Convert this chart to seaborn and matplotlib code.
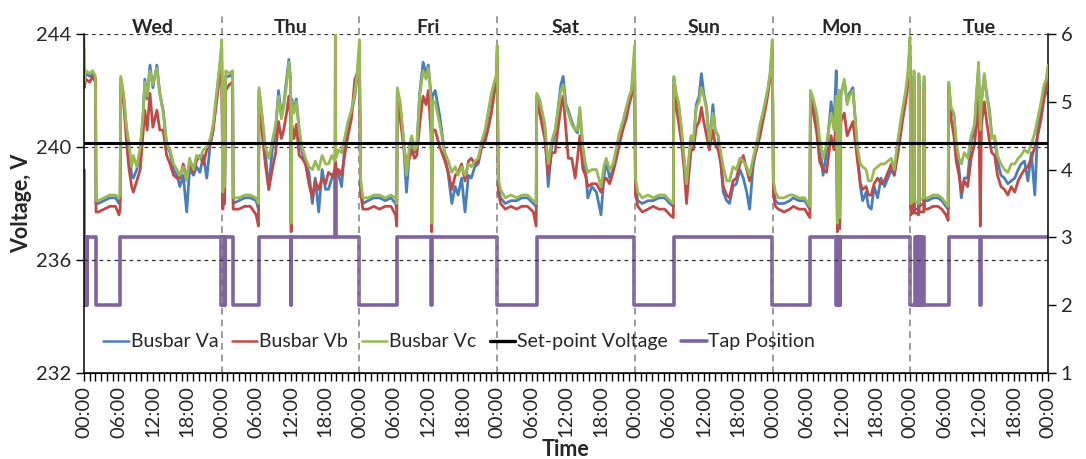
import pandas as pd
import seaborn as sns
import matplotlib.pyplot as plt
from matplotlib.lines import Line2D

# busbar voltages, hours from Wed 00:00
wed_h = [0, 0.05, 0.3, 1.0, 1.5, 2.0,
         2.1, 2.5, 3.5, 4.5, 5.5,
         6.1, 6.3, 6.4, 6.9, 7.4,
         7.8, 8.3, 8.6, 9.2, 9.8,
         10.3, 10.6, 11.0, 11.5, 12.0,
         12.7, 13.2, 13.8, 14.4, 15.0,
         15.6, 16.2, 16.7, 17.3, 17.9,
         18.4, 19.1, 19.6, 20.2, 20.8,
         21.4, 22.0, 22.5, 23.1, 23.7,
         23.95]
wed_vc = [243.9, 242.3, 242.7, 242.6, 242.7, 242.5,
          238.1, 238.1, 238.2, 238.3, 238.3,
          238.2, 238.3, 242.5, 241.9, 240.7,
          240.2, 239.3, 239.7, 239.3, 240.0,
          241.2, 242.3, 241.8, 242.7, 242.2,
          242.8, 241.9, 241.2, 240.1, 239.9,
          239.4, 239.2, 239.0, 239.3, 238.8,
          239.6, 239.2, 239.7, 239.6, 239.9,
          240.0, 240.3, 240.8, 241.9, 243.0,
          243.6]
wed_vb = [242.8, 242.1, 242.4, 242.3, 242.5, 242.3,
          237.7, 237.7, 237.8, 237.9, 237.9,
          237.6, 237.8, 242.2, 241.6, 240.2,
          239.3, 238.6, 238.4, 238.8, 239.2,
          240.5, 241.3, 240.6, 241.9, 240.7,
          241.3, 240.6, 240.6, 239.7, 239.4,
          239.0, 238.9, 238.9, 239.4, 238.9,
          239.4, 239.1, 239.5, 239.7, 239.4,
          239.9, 240.1, 240.6, 241.6, 242.6,
          243.0]
wed_va = [243.5, 242.3, 242.6, 242.5, 242.6, 242.4,
          238.0, 238.0, 238.1, 238.2, 238.2,
          238.0, 238.1, 242.4, 241.8, 240.6,
          240.0, 239.0, 238.9, 239.2, 239.8,
          241.1, 242.4, 241.7, 242.9, 242.1,
          242.9, 241.9, 241.3, 240.1, 239.8,
          239.2, 239.0, 238.6, 239.0, 237.7,
          239.2, 239.0, 239.3, 239.1, 239.7,
          238.9, 240.1, 240.6, 241.8, 242.9,
          243.4]

thu_h = [24.0, 24.2, 24.35, 24.5, 24.7,
         25.3, 25.9, 26.0, 27.0, 28.0,
         29.0, 30.0, 30.4, 30.5, 31.0,
         31.6, 32.2, 32.8, 33.4, 33.9,
         34.4, 34.8, 35.3, 35.7, 36.0,
         36.1, 36.2, 36.6, 37.0, 37.5,
         38.0, 38.6, 39.2, 39.8, 40.3,
         40.9, 41.5, 42.1, 42.6, 43.2,
         43.7, 43.8, 43.9, 44.4, 44.9,
         45.5, 46.0, 46.6, 47.2, 47.6,
         47.95]
thu_vc = [243.8, 238.4, 242.4, 238.6, 242.7,
          242.6, 242.7, 238.2, 238.2, 238.3,
          238.3, 238.2, 238.0, 242.1, 241.2,
          240.0, 239.6, 240.2, 240.8, 241.8,
          241.0, 241.4, 242.2, 243.0, 242.3,
          237.3, 241.6, 241.2, 241.6, 240.6,
          240.0, 239.6, 239.3, 239.2, 239.5,
          239.2, 239.7, 239.4, 239.4, 239.7,
          239.5, 244.0, 239.6, 239.9, 239.8,
          240.4, 240.9, 241.3, 241.9, 242.6,
          243.7]
thu_vb = [243.0, 237.8, 241.9, 238.0, 242.0,
          242.2, 242.3, 237.8, 237.8, 237.9,
          237.9, 237.6, 237.2, 241.8, 240.6,
          239.4, 238.5, 239.2, 239.8, 240.9,
          240.3, 240.6, 241.2, 241.8, 241.0,
          237.0, 240.8, 240.3, 240.8, 239.7,
          239.6, 239.4, 238.7, 238.2, 238.8,
          238.5, 238.9, 238.7, 239.1, 239.0,
          238.9, 239.5, 239.0, 239.2, 239.0,
          239.8, 240.4, 241.0, 242.4, 242.6,
          243.0]
thu_va = [243.5, 237.9, 242.2, 238.0, 242.5,
          242.5, 242.6, 238.0, 238.1, 238.2,
          238.2, 238.1, 237.8, 242.0, 241.1,
          239.8, 238.5, 239.9, 240.6, 242.0,
          241.1, 241.5, 242.4, 243.1, 242.4,
          237.3, 241.7, 241.3, 241.7, 240.6,
          239.8, 239.4, 239.1, 238.0, 238.9,
          237.7, 239.2, 238.5, 238.5, 238.9,
          239.2, 239.5, 239.3, 239.0, 238.6,
          240.2, 240.7, 241.2, 241.8, 242.5,
          243.3]

fri_h = [48.0, 48.2, 48.6, 49.5, 50.5,
         51.5, 52.5, 53.5, 54.3, 54.5,
         54.6, 55.1, 55.6, 56.2, 56.7,
         57.1, 57.6, 58.0, 58.5, 59.1,
         59.6, 60.0, 60.5, 60.6, 60.7,
         61.2, 62.0, 62.9, 63.5, 64.1,
         64.7, 65.2, 65.8, 66.4, 67.0,
         67.5, 68.1, 68.7, 69.3, 69.9,
         70.5, 71.0, 71.5, 71.9]
fri_vc = [243.8, 238.9, 238.2, 238.2, 238.3,
          238.3, 238.2, 238.3, 238.2, 238.0,
          242.1, 241.6, 240.5, 239.0, 240.0,
          240.4, 239.9, 240.0, 241.8, 242.7,
          242.4, 242.8, 241.6, 237.3, 241.6,
          241.6, 240.8, 239.8, 239.5, 239.1,
          239.3, 239.0, 239.3, 239.0, 239.4,
          239.3, 239.5, 239.6, 240.2, 240.6,
          241.3, 241.9, 242.3, 242.6]
fri_vb = [243.0, 238.4, 237.8, 237.8, 237.9,
          237.8, 237.9, 237.9, 237.6, 237.2,
          241.8, 241.0, 240.2, 239.4, 239.6,
          239.9, 239.6, 239.7, 240.8, 241.8,
          241.5, 242.0, 240.4, 237.0, 240.6,
          240.6, 240.0, 239.5, 239.1, 238.5,
          239.0, 239.1, 239.4, 238.8, 239.5,
          239.6, 239.4, 239.5, 240.0, 240.2,
          240.7, 241.2, 241.9, 242.4]
fri_va = [243.4, 238.6, 238.0, 238.1, 238.2,
          238.2, 238.1, 238.2, 238.0, 237.8,
          242.0, 241.4, 240.4, 238.4, 239.8,
          240.3, 239.8, 240.0, 241.9, 243.0,
          242.6, 242.9, 241.8, 237.3, 241.8,
          242.0, 241.1, 239.7, 239.0, 238.0,
          238.6, 238.3, 238.9, 237.7, 239.0,
          238.9, 239.3, 239.4, 240.0, 240.5,
          241.2, 241.8, 242.2, 242.5]

sat_h = [72.0, 72.2, 72.6, 73.4, 74.4,
         75.4, 76.3, 77.3, 78.3, 78.8,
         78.9, 79.4, 80.3, 80.9, 81.5,
         82.1, 82.7, 83.1, 83.5, 84.0,
         84.4, 85.0, 85.6, 86.0, 86.4,
         86.95, 87.4, 87.8, 88.5, 89.3,
         90.1, 90.6, 91.0, 91.6, 92.2,
         92.8, 93.3, 93.9, 94.5, 95.0,
         95.4, 95.95]
sat_vc = [243.6, 238.9, 238.5, 238.2, 238.3,
          238.2, 238.3, 238.3, 238.1, 238.0,
          241.9, 241.7, 240.8, 239.4, 240.2,
          240.6, 241.4, 242.0, 242.2, 241.4,
          241.2, 240.8, 240.6, 240.6, 241.4,
          240.0, 239.4, 239.1, 239.2, 239.2,
          238.6, 239.3, 239.6, 239.2, 239.4,
          240.0, 240.5, 240.9, 241.4, 241.8,
          242.0, 243.6]
sat_vb = [243.0, 238.4, 238.0, 237.8, 237.9,
          237.8, 237.9, 237.9, 237.7, 237.2,
          241.6, 241.2, 240.3, 239.0, 239.8,
          239.8, 240.8, 241.4, 241.8, 240.6,
          239.6, 239.6, 238.9, 239.6, 240.4,
          239.2, 239.0, 238.6, 238.7, 238.7,
          238.4, 238.8, 238.9, 238.7, 239.1,
          239.6, 240.1, 240.6, 241.0, 241.5,
          241.8, 243.0]
sat_va = [243.3, 238.6, 238.2, 238.0, 238.1,
          238.1, 238.2, 238.2, 238.0, 237.9,
          241.8, 241.6, 240.7, 238.6, 240.0,
          240.5, 241.5, 242.2, 242.5, 241.5,
          241.3, 240.9, 240.6, 240.5, 241.3,
          239.9, 239.2, 238.2, 238.6, 238.4,
          237.6, 238.9, 239.5, 238.9, 239.2,
          239.8, 240.3, 240.8, 241.3, 241.7,
          241.9, 243.3]

sun_h = [96.1, 96.5, 97.3, 98.3, 99.2,
         100.2, 101.2, 102.1, 102.7, 102.8,
         103.2, 103.6, 104.1, 104.6, 105.0,
         105.4, 105.8, 106.2, 106.7, 107.2,
         107.6, 108.0, 108.5, 109.0, 109.6,
         110.0, 110.5, 111.0, 111.4, 112.0,
         112.5, 113.1, 113.7, 114.3, 114.9,
         115.5, 116.0, 116.6, 117.2, 117.8,
         118.3, 118.8, 119.2, 119.6, 119.95]
sun_vc = [238.9, 238.4, 238.2, 238.3, 238.2,
          238.3, 238.3, 238.1, 238.0, 242.5,
          241.9, 241.6, 240.7, 239.6, 238.7,
          239.6, 240.4, 240.2, 241.4, 241.6,
          242.1, 241.8, 241.3, 240.2, 241.2,
          240.6, 240.4, 239.8, 239.3, 238.8,
          238.8, 239.3, 239.2, 239.6, 239.5,
          239.3, 239.0, 239.6, 240.1, 240.8,
          241.2, 241.7, 242.1, 242.7, 243.8]
sun_vb = [238.4, 237.9, 237.7, 237.8, 237.9,
          237.8, 237.8, 237.6, 237.5, 242.2,
          241.4, 240.9, 240.2, 239.2, 238.0,
          239.0, 239.9, 239.9, 240.7, 240.9,
          241.4, 240.9, 240.4, 239.9, 240.6,
          240.1, 239.9, 239.4, 238.6, 238.3,
          238.2, 238.8, 238.9, 239.4, 239.7,
          239.2, 238.8, 239.5, 239.9, 240.4,
          240.9, 241.4, 241.9, 242.5, 243.2]
sun_va = [238.6, 238.1, 238.0, 238.1, 238.1,
          238.2, 238.2, 238.0, 237.9, 242.4,
          241.8, 241.5, 240.6, 239.5, 238.6,
          239.5, 240.3, 240.1, 241.5, 241.8,
          242.6, 241.9, 241.4, 240.1, 241.5,
          240.6, 240.4, 239.4, 238.4, 238.1,
          238.0, 238.6, 238.7, 239.2, 238.9,
          238.4, 237.8, 239.3, 240.0, 240.4,
          241.1, 241.6, 242.0, 242.6, 243.5]

mon_h = [120.15, 120.5, 121.0, 122.0, 123.0,
         123.6, 124.6, 125.6, 126.2, 126.5,
         126.6, 127.1, 127.7, 128.2, 128.8,
         129.4, 130.2, 130.7, 131.1, 131.3,
         131.5, 131.7, 131.9, 132.5, 133.0,
         133.4, 134.0, 134.4, 134.8, 135.3,
         135.7, 136.3, 136.7, 137.2, 137.7,
         138.3, 138.9, 139.5, 140.1, 140.7,
         141.2, 141.8, 142.3, 142.7, 143.2,
         143.6, 143.95]
mon_vc = [238.8, 238.4, 238.2, 238.2, 238.3,
          238.3, 238.2, 238.2, 238.0, 237.9,
          242.0, 241.7, 241.2, 240.3, 239.6,
          240.1, 241.2, 240.6, 241.8, 237.3,
          242.0, 237.5, 241.8, 242.4, 241.5,
          241.8, 242.0, 241.0, 240.0, 239.4,
          239.3, 239.2, 238.8, 238.8, 239.2,
          239.3, 239.4, 239.4, 239.5, 239.6,
          239.2, 240.2, 240.9, 241.4, 242.0,
          242.7, 243.9]
mon_vb = [238.3, 237.9, 237.8, 237.7, 237.8,
          237.9, 237.8, 237.8, 237.6, 237.5,
          241.7, 241.2, 240.5, 239.5, 239.2,
          239.1, 240.4, 239.9, 241.0, 237.0,
          241.1, 237.1, 240.9, 241.2, 240.4,
          240.6, 240.9, 240.2, 239.5, 238.7,
          238.5, 238.6, 238.3, 238.3, 238.7,
          238.9, 238.7, 238.8, 239.1, 239.4,
          239.0, 239.7, 240.4, 241.0, 241.6,
          242.3, 243.2]
mon_va = [238.5, 238.1, 238.0, 238.0, 238.1,
          238.2, 238.1, 238.1, 237.9, 237.8,
          241.9, 241.6, 241.0, 240.1, 239.0,
          239.8, 241.6, 240.8, 242.7, 237.3,
          242.0, 237.4, 241.9, 242.3, 241.6,
          241.9, 242.1, 241.0, 239.8, 238.6,
          238.1, 238.4, 237.9, 237.8, 238.6,
          238.2, 238.9, 238.6, 238.9, 239.2,
          239.0, 239.9, 240.7, 241.2, 241.8,
          242.5, 243.6]

tue_h = [144.1, 144.6, 144.65, 144.7, 145.45,
         145.5, 145.55, 146.35, 146.4, 146.45,
         147.0, 148.0, 148.8, 149.5, 150.2,
         150.6, 150.7, 151.1, 151.6, 152.0,
         152.5, 152.9, 153.4, 154.0, 154.6,
         155.2, 155.6, 155.9, 156.2, 156.4,
         156.9, 157.3, 157.8, 158.2, 158.7,
         159.2, 159.8, 160.4, 161.0, 161.6,
         162.2, 162.8, 163.3, 163.9, 164.5,
         165.1, 165.7, 166.2, 166.8, 167.3,
         167.7, 168.0]
tue_vc = [238.0, 238.1, 242.7, 238.1, 238.0,
          242.6, 238.1, 238.2, 242.5, 238.2,
          238.2, 238.3, 238.3, 238.2, 238.0,
          237.9, 242.3, 241.4, 241.2, 240.2,
          239.6, 239.4, 239.8, 239.6, 240.4,
          240.8, 242.0, 243.0, 240.6, 241.6,
          242.6, 241.8, 241.2, 240.3, 240.4,
          239.7, 239.4, 239.2, 239.1, 239.4,
          239.4, 239.6, 239.7, 239.9, 239.8,
          240.1, 240.5, 241.0, 241.6, 242.2,
          242.4, 242.9]
tue_vb = [237.6, 237.7, 242.3, 237.7, 237.6,
          242.2, 237.7, 237.7, 242.0, 237.8,
          237.8, 237.9, 237.9, 237.8, 237.6,
          237.4, 242.0, 241.0, 240.4, 239.5,
          239.0, 238.4, 238.8, 238.6, 239.6,
          240.1, 241.0, 241.9, 237.2, 240.8,
          241.6, 240.9, 240.2, 239.8, 239.7,
          239.0, 238.6, 238.5, 238.3, 238.6,
          238.4, 238.8, 239.0, 239.2, 239.3,
          239.6, 240.0, 240.4, 241.0, 241.7,
          242.0, 242.5]
tue_va = [237.8, 237.9, 242.5, 237.8, 237.8,
          242.5, 237.9, 238.0, 242.3, 238.1,
          238.1, 238.2, 238.2, 238.1, 237.9,
          237.8, 242.2, 241.3, 241.1, 240.1,
          239.2, 238.2, 238.9, 238.9, 240.2,
          240.6, 242.0, 242.8, 240.5, 241.6,
          242.5, 241.9, 241.3, 240.4, 240.3,
          239.5, 239.0, 238.9, 238.7, 238.8,
          238.9, 239.2, 239.4, 239.5, 238.8,
          239.8, 238.3, 240.6, 241.4, 242.0,
          242.3, 242.8]

setpoint_v = 240.15

# tap changer position (step changes)
tap_h = [0, 0.05, 0.15, 0.25, 0.35, 0.45, 0.55, 2.1, 6.3,
         23.9, 24.0, 24.1, 24.2, 24.3, 24.4, 24.5, 24.6, 26.0, 30.5,
         36.05, 36.15, 43.75, 43.85, 48.0, 54.5, 60.55, 60.65,
         72.0, 78.9, 95.9, 102.8, 119.9, 126.6,
         131.1, 131.2, 131.3, 131.4, 131.5, 131.6, 131.7, 131.8, 131.9,
         144.0, 144.9, 145.0, 145.1, 145.2, 145.35, 145.5, 145.65, 145.8,
         145.95, 146.1, 146.25, 146.35,
         150.7, 156.15, 156.25, 168]
tap_pos = [4, 2, 3, 2, 3, 2, 3, 2, 3,
           2, 3, 2, 3, 2, 3, 2, 3, 2, 3,
           2, 3, 4, 3, 2, 3, 2, 3,
           2, 3, 2, 3, 2, 3,
           2, 3, 2, 3, 2, 3, 2, 3, 3,
           2, 3, 2, 3, 2, 3, 2, 3, 2,
           3, 2, 3, 2,
           3, 2, 3, 3]

days = ['Wed', 'Thu', 'Fri', 'Sat', 'Sun', 'Mon', 'Tue']
tick_names = ['00:00', '06:00', '12:00', '18:00']

volt = pd.DataFrame({
    'hour': wed_h + thu_h + fri_h + sat_h + sun_h + mon_h + tue_h,
    'Va': wed_va + thu_va + fri_va + sat_va + sun_va + mon_va + tue_va,
    'Vb': wed_vb + thu_vb + fri_vb + sat_vb + sun_vb + mon_vb + tue_vb,
    'Vc': wed_vc + thu_vc + fri_vc + sat_vc + sun_vc + mon_vc + tue_vc,
})
tap = pd.DataFrame({'hour': tap_h, 'tap': tap_pos})

sns.set_style('ticks')
plt.rcParams['font.family'] = ['Lato', 'DejaVu Sans']

c_a, c_b, c_c = '#4A7EBB', '#BE4B48', '#98B954'
c_sp, c_tap = 'black', '#8064A2'

fig = plt.figure(figsize=(10.86, 4.59), dpi=100)
ax = fig.add_axes([84 / 1086, 1 - 373 / 459, 964 / 1086, 339 / 459])
ax2 = ax.twinx()
ax.set_zorder(ax2.get_zorder() + 1)
ax.patch.set_visible(False)

# tap position sits under the voltages
sns.lineplot(data=tap, x='hour', y='tap', ax=ax2, color=c_tap, lw=2.6,
             drawstyle='steps-post', estimator=None, sort=False)

for col, c in [('Va', c_a), ('Vb', c_b), ('Vc', c_c)]:
    sns.lineplot(data=volt, x='hour', y=col, ax=ax, color=c, lw=2.0,
                 estimator=None, sort=False)
sns.lineplot(x=[0, 168], y=[setpoint_v, setpoint_v], ax=ax, color=c_sp, lw=2.2)

ax.set_xlim(0, 168)
ax.set_ylim(232, 244)
ax.set_yticks([232, 236, 240, 244])
ax2.set_ylim(1, 6)
ax2.set_yticks([1, 2, 3, 4, 5, 6])

hours = list(range(0, 169))
labels = [tick_names[(h // 6) % 4] if h % 6 == 0 else '' for h in hours]
ax.set_xticks(hours)
ax.set_xticklabels(labels, rotation=90)

ax.yaxis.grid(True, linestyle=(0, (3, 3)), color='#333333', lw=0.9)
for d in range(1, 7):
    ax.axvline(24 * d, ymin=0, ymax=1.056, color='#8a8a8a', lw=1.2,
               ls=(0, (4, 3)), clip_on=False, zorder=0)
for i, d in enumerate(days):
    ax.text(12 + 24 * i, 1.004, d, transform=ax.get_xaxis_transform(),
            ha='center', va='baseline', fontsize=14, fontweight='bold')

for a in (ax, ax2):
    a.spines['top'].set_visible(False)
    a.tick_params(direction='out', length=6, width=1, labelsize=14.5,
                  color='black', pad=3)
ax.spines['right'].set_visible(False)
ax2.spines['left'].set_visible(False)
for s in ['left', 'bottom']:
    ax.spines[s].set_linewidth(1.1)
    ax.spines[s].set_color('black')
ax2.spines['right'].set_linewidth(1.1)
ax2.spines['right'].set_color('black')

ax.set_xlabel('Time', fontsize=15.5, fontweight='bold', labelpad=1)
ax.set_ylabel('Voltage, V', fontsize=15.5, fontweight='bold', labelpad=3)
ax2.set_ylabel('')

handles = [Line2D([], [], color=c_a, lw=1.8), Line2D([], [], color=c_b, lw=1.8),
           Line2D([], [], color=c_c, lw=1.8), Line2D([], [], color=c_sp, lw=2.4),
           Line2D([], [], color=c_tap, lw=2.6)]
names = ['Busbar Va', 'Busbar Vb', 'Busbar Vc', 'Set-point Voltage', 'Tap Position']
ax.legend(handles, names, ncol=5, loc='lower left', bbox_to_anchor=(0.002, 0.015),
          frameon=False, fontsize=14, handlelength=1.3, handletextpad=0.1,
          columnspacing=0.7)

fig.savefig('out.png', dpi=100)
